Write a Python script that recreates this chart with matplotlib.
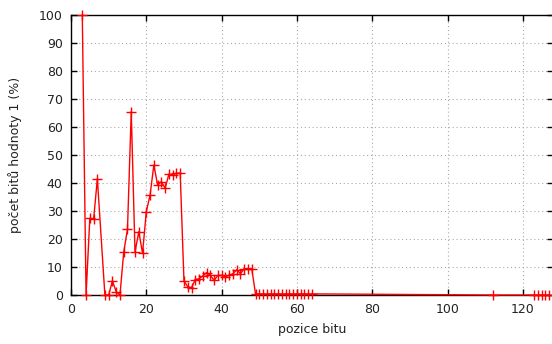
import matplotlib
matplotlib.use("Agg")
import matplotlib.pyplot as plt

bit_pos = [3, 4, 5, 6, 7, 9, 10, 11, 12, 13, 14, 15, 16, 17, 18, 19, 20,
           21, 22, 23, 24, 25, 26, 27, 28, 29, 30, 31, 32, 33, 34, 35, 36,
           37, 38, 39, 40, 41, 42, 43, 44, 45, 46, 47, 48,
           49, 50, 51, 52, 53, 54, 55, 56, 57, 58, 59, 60, 61, 62, 63, 64,
           112, 123, 124, 125, 126, 127]
pct_ones = [100, 0, 27.4, 27.0, 41.5, 0, 0, 5.0, 1.2, 0, 15.3, 23.5, 65.5,
            15.3, 22.6, 14.9, 29.8, 35.7, 46.4, 39.3, 40.5, 38.1, 43.2, 42.9,
            43.5, 43.5, 5.0, 3.0, 2.6, 5.5, 5.8, 6.8, 8.0, 7.0, 5.2, 7.0, 7.0,
            6.6, 7.0, 7.6, 9.0, 7.6, 9.4, 9.4, 9.4,
            0.4, 0.4, 0.4, 0.4, 0.4, 0.4, 0.4, 0.4, 0.4, 0.4, 0.4, 0.4, 0.4,
            0.4, 0.4, 0.4,
            0, 0, 0, 0, 0, 0]

x_ticks = [0, 20, 40, 60, 80, 100, 120]
y_ticks = [0, 10, 20, 30, 40, 50, 60, 70, 80, 90, 100]

plt.rcParams['font.family'] = ['DejaVu Sans']
fig = plt.figure(figsize=(5.52, 3.44), dpi=100)
ax = fig.add_axes([71 / 552, 49 / 344, 482 / 552, 280 / 344])

ax.plot(bit_pos, pct_ones, color='#ff0000', lw=1.0, marker='+',
        markersize=7, markeredgewidth=1.0, clip_on=False, zorder=3)

ax.set_xlim(0, 128)
ax.set_ylim(0, 100)
ax.set_xticks(x_ticks)
ax.set_yticks(y_ticks)
ax.tick_params(direction='in', length=4, width=1, top=True, right=True,
               labelsize=9, color='black', labelcolor='#222222')
ax.tick_params(axis='x', pad=6)
ax.tick_params(axis='y', pad=6)
ax.grid(True, color='#aaaaaa', linestyle=(0, (1, 2.5)), linewidth=0.8)
ax.set_axisbelow(True)
for s in ax.spines.values():
    s.set_linewidth(1.0)
    s.set_color('black')

ax.set_xlabel('pozice bitu', fontsize=9, color='#222222', labelpad=5)
ax.set_ylabel('počet bitů hodnoty 1 (%)', fontsize=9, color='#222222',
              labelpad=12)

fig.savefig('out.png', dpi=100)
